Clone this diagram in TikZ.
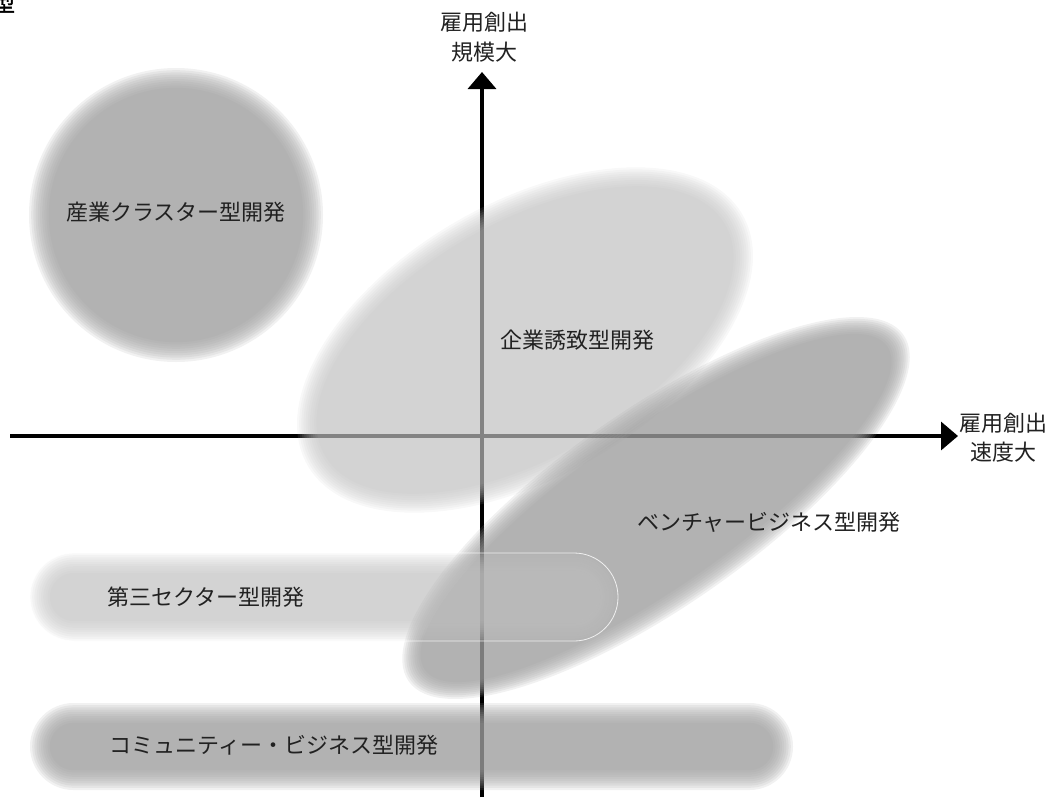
\documentclass[tikz,border=0pt]{standalone}
\usepackage{fontspec}
\newfontfamily\jp{Noto Sans CJK JP}
\newfontfamily\jpb[FakeBold=1.5]{Noto Sans CJK JP}
\usetikzlibrary{arrows.meta}
\definecolor{lightg}{gray}{0.757}
\definecolor{darkg}{gray}{0.625}
\definecolor{txt}{gray}{0.13}
\begin{document}
\begin{tikzpicture}[x=1pt,y=-1pt,
  axisline/.style={line width=3.5pt, draw=black, -{Triangle[width=28pt,length=17pt]}},
  lbl/.style={font=\jp\fontsize{22}{28}\selectfont, text=txt, inner sep=0pt},
  lightlayer/.style={fill=lightg, opacity=0.113},
  darklayer/.style={fill=darkg, opacity=0.149}]
\useasboundingbox (0,0) rectangle (1056,798);

% axes
\coordinate (xs) at (10,436);
\coordinate (xe) at (958,436);
\coordinate (ys) at (482,797);
\coordinate (ye) at (482,72);
\draw[axisline] (xs) -- (xe);
\draw[axisline] (ys) -- (ye);

% light ellipse (enterprise attraction)
\foreach \i in {0,...,9}{
  \pgfmathsetmacro\ra{251-2.2*\i}
  \pgfmathsetmacro\rb{137-2.2*\i}
  \path[lightlayer, rotate around={30:(525,340)}] (525,340) ellipse [x radius=\ra pt, y radius=\rb pt];
}
% venture ellipse
\foreach \i in {0,...,9}{
  \pgfmathsetmacro\ra{302-2.2*\i}
  \pgfmathsetmacro\rb{98-2.2*\i}
  \path[darklayer, rotate around={35:(656,508)}] (656,508) ellipse [x radius=\ra pt, y radius=\rb pt];
}
% cluster circle
\foreach \i in {0,...,9}{
  \pgfmathsetmacro\r{147-2.2*\i}
  \path[darklayer] (176,215) circle [radius=\r pt];
}
% third sector stadium
\foreach \i in {0,...,9}{
  \pgfmathsetmacro\d{2.2*\i}
  \pgfmathsetmacro\rr{43.9-\d}
  \path[lightlayer, rounded corners=\rr pt] ({30+\d},{553+\d}) rectangle ({618-\d},{641-\d});
}
\draw[white, opacity=0.8, line width=0.8pt, rounded corners=43.9pt] (30,553) rectangle (618,641);
% community stadium
\foreach \i in {0,...,9}{
  \pgfmathsetmacro\d{2.2*\i}
  \pgfmathsetmacro\rr{43.4-\d}
  \path[darklayer, rounded corners=\rr pt] ({30+\d},{703+\d}) rectangle ({793-\d},{790-\d});
}

% labels
\node[lbl] (ytop1) at (484,22) {雇用創出};
\node[lbl] (ytop2) at (484,52) {規模大};
\node[lbl] (xr1) at (1003,423) {雇用創出};
\node[lbl] (xr2) at (1003,452) {速度大};
\node[lbl] (cluster) at (176,212) {産業クラスター型開発};
\node[lbl] (attract) at (577,340) {企業誘致型開発};
\node[lbl] (venture) at (769,522) {ベンチャービジネス型開発};
\node[lbl] (third) at (206,597) {第三セクター型開発};
\node[lbl] (community) at (274,745) {コミュニティー・ビジネス型開発};
\node[font=\jpb\fontsize{22}{22}\selectfont, text=black, inner sep=0pt] (corner) at (4,3) {型};
\end{tikzpicture}
\end{document}
